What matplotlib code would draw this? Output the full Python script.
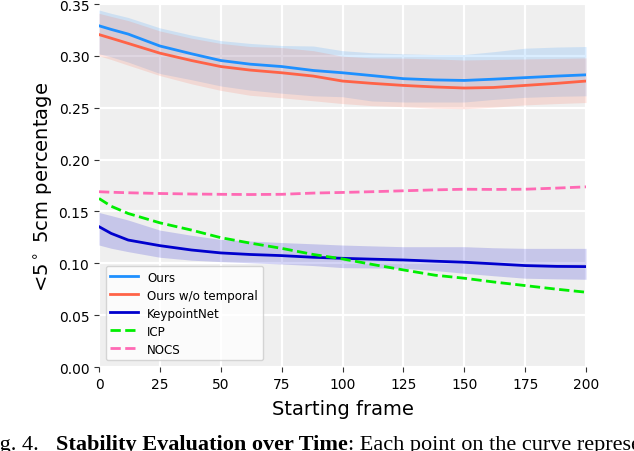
import matplotlib
matplotlib.use("Agg")
import matplotlib.pyplot as plt
import numpy as np

frames = [0, 5, 12, 25, 38, 50, 62, 75, 88, 100, 112, 125, 138, 150, 162, 175, 188, 200]

ours = [0.329, 0.3255, 0.321, 0.3095, 0.302, 0.2955, 0.292, 0.2897, 0.2859, 0.2837, 0.281, 0.278,
        0.2768, 0.2763, 0.2775, 0.279, 0.2805, 0.2817]
ours_hi = [0.3442, 0.341, 0.337, 0.327, 0.320, 0.3147, 0.312, 0.310, 0.3095, 0.305, 0.303, 0.302,
           0.3013, 0.3013, 0.304, 0.3074, 0.3085, 0.309]
ours_lo = [0.302, 0.299, 0.294, 0.283, 0.277, 0.271, 0.267, 0.264, 0.2615, 0.2606, 0.2565, 0.2555,
           0.2555, 0.2555, 0.258, 0.260, 0.261, 0.2615]

wot = [0.3205, 0.317, 0.312, 0.3026, 0.2955, 0.2897, 0.2863, 0.2837, 0.2805, 0.2757, 0.2735, 0.2715,
       0.270, 0.269, 0.2695, 0.2715, 0.2735, 0.2757]
wot_hi = [0.341, 0.338, 0.334, 0.324, 0.317, 0.312, 0.309, 0.308, 0.305, 0.2997, 0.298, 0.2978,
          0.297, 0.296, 0.2965, 0.297, 0.2975, 0.298]
wot_lo = [0.300, 0.2965, 0.291, 0.281, 0.273, 0.2667, 0.262, 0.2596, 0.2567, 0.254, 0.252, 0.251,
          0.2495, 0.249, 0.2505, 0.2527, 0.254, 0.255]

kpn = [0.1353, 0.1288, 0.1224, 0.117, 0.1128, 0.110, 0.1085, 0.1074, 0.1058, 0.1048, 0.104, 0.1032,
       0.102, 0.101, 0.0995, 0.0978, 0.097, 0.0968]
kpn_hi = [0.149, 0.146, 0.1417, 0.132, 0.127, 0.123, 0.1215, 0.120, 0.1188, 0.1176, 0.1168, 0.116,
          0.116, 0.116, 0.115, 0.1144, 0.1144, 0.1144]
kpn_lo = [0.1176, 0.1145, 0.1112, 0.1058, 0.103, 0.1016, 0.1005, 0.0993, 0.0978, 0.0958, 0.0955, 0.0952,
          0.093, 0.0904, 0.088, 0.0856, 0.085, 0.0846]

icp = [0.1625, 0.155, 0.148, 0.139, 0.132, 0.1247, 0.1195, 0.1144, 0.1085, 0.1042, 0.099, 0.0936,
       0.0885, 0.0856, 0.082, 0.0785, 0.075, 0.0721]
nocs = [0.169, 0.1685, 0.168, 0.1673, 0.1668, 0.1665, 0.1663, 0.1665, 0.1677, 0.1683, 0.169, 0.1699,
        0.1708, 0.1714, 0.1712, 0.1714, 0.1725, 0.1737]

labels = ["Ours", "Ours w/o temporal", "KeypointNet", "ICP", "NOCS"]
xticks = [0, 25, 50, 75, 100, 125, 150, 175, 200]
yticks = [0.00, 0.05, 0.10, 0.15, 0.20, 0.25, 0.30, 0.35]

W, H = 634, 452
fig = plt.figure(figsize=(W / 100, H / 100), dpi=100)
ax = fig.add_axes([99 / W, 1 - 368 / H, (586 - 99) / W, (368 - 5) / H])
ax.set_facecolor("#efefef")
ax.grid(True, color="white", linewidth=1.6)
ax.set_axisbelow(True)
for s in ax.spines.values():
    s.set_visible(False)

c_ours, c_wot, c_kpn, c_icp, c_nocs = "#1e90ff", "#ff6347", "#0000cd", "#00ee00", "#ff69b4"

ax.fill_between(frames, ours_lo, ours_hi, color=c_ours, alpha=0.16, linewidth=0)
ax.fill_between(frames, wot_lo, wot_hi, color=c_wot, alpha=0.16, linewidth=0)
ax.fill_between(frames, kpn_lo, kpn_hi, color=c_kpn, alpha=0.17, linewidth=0)

lw = 2.0
ax.plot(frames, ours, color=c_ours, lw=lw, label=labels[0])
ax.plot(frames, wot, color=c_wot, lw=lw, label=labels[1])
ax.plot(frames, kpn, color=c_kpn, lw=lw, label=labels[2])
ax.plot(frames, icp, color=c_icp, lw=lw, ls="--", label=labels[3])
ax.plot(frames, nocs, color=c_nocs, lw=lw, ls="--", label=labels[4])

ax.set_xlim(0, 200)
ax.set_ylim(0, 0.35)
ax.set_xticks(xticks)
ax.set_yticks(yticks)
ax.set_yticklabels([f"{v:.2f}" for v in yticks])
ax.tick_params(direction="out", length=3.5, width=0.8, color="#333333", labelsize=10, pad=3.5)

ax.set_xlabel("Starting frame", fontsize=14, labelpad=6)
ax.set_ylabel(r"<5$^\circ$ 5cm percentage", fontsize=14, labelpad=2)

leg = ax.legend(loc="lower left", fontsize=8.6, handlelength=2.3, frameon=True,
                fancybox=True, framealpha=0.8, borderaxespad=0.55, labelspacing=0.42)
leg.get_frame().set_edgecolor("#cccccc")
leg.get_frame().set_facecolor("white")

# caption (cut off as in the source page)
cap_y = 1 - 450 / H
fs = 16
fig.text(-19 / W, cap_y, "Fig. 4.", family="Liberation Serif", fontsize=fs, va="baseline")
t1 = fig.text(56 / W, cap_y, "Stability Evaluation over Time", family="Liberation Serif",
              fontsize=fs, weight="bold", va="baseline")
fig.canvas.draw()
r = fig.canvas.get_renderer()
bb = t1.get_window_extent(r)
fig.text(bb.x1 / W, cap_y, ": Each point on the curve represents", family="Liberation Serif",
         fontsize=fs, va="baseline")

fig.savefig("out.png", dpi=100)
